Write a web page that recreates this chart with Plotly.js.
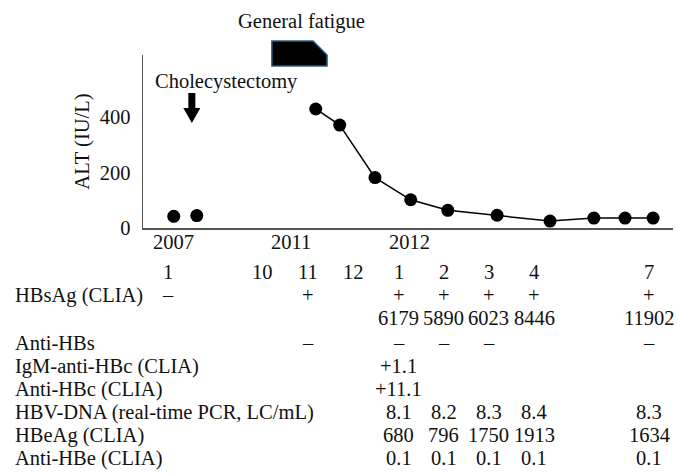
<!DOCTYPE html>
<html>
<head>
<meta charset="utf-8">
<script src="https://cdn.plot.ly/plotly-3.0.1.min.js"></script>
<style>html,body{margin:0;padding:0;background:#fff}#chart{width:677px;height:474px}</style>
</head>
<body>
<div id="chart"></div>
<script>
// ---- Data ----
// ALT values (IU/L); x = position on the visit axis (table column units)
var alt2007X = [-1.97, -1.46];
var alt2007Y = [42, 45];
var altX = [1.17, 1.70, 2.48, 3.27, 4.09, 5.18, 6.35, 7.32, 8.01, 8.63];
var altY = [430, 372, 182, 102, 64, 46, 25, 36, 36, 36];

// Table columns
var colX = [-2.1, 0, 1, 2, 3, 4, 5, 6, 8.55];
var months = ["1", "10", "11", "12", "1", "2", "3", "4", "7"];
var years = ["2007", "2011", "2012"];
var yearX = [-1.97, 0.62, 3.25];

var hbsag     = ["\u2013", "", "+", "", "+", "+", "+", "+", "+"];
var hbsagTit  = ["", "", "", "", "6179", "5890", "6023", "8446", "11902"];
var antiHBs   = ["", "", "\u2013", "", "\u2013", "\u2013", "\u2013", "", "\u2013"];
var igmAntiHBc= ["", "", "", "", "+1.1", "", "", "", ""];
var antiHBc   = ["", "", "", "", "+11.1", "", "", "", ""];
var hbvDNA    = ["", "", "", "", "8.1", "8.2", "8.3", "8.4", "8.3"];
var hbeag     = ["", "", "", "", "680", "796", "1750", "1913", "1634"];
var antiHBe   = ["", "", "", "", "0.1", "0.1", "0.1", "0.1", "0.1"];

var rowLabels = ["HBsAg (CLIA)", "", "Anti-HBs", "IgM-anti-HBc (CLIA)", "Anti-HBc (CLIA)",
                 "HBV-DNA (real-time PCR, LC/mL)", "HBeAg (CLIA)", "Anti-HBe (CLIA)"];
var rowValues = [hbsag, hbsagTit, antiHBs, igmAntiHBc, antiHBc, hbvDNA, hbeag, antiHBe];

// Events
var fatigueStart = 0.2, fatigueEnd = 1.42, fatigueCorner = 1.11;
var surgeryX = -1.57;

// ---- Layout helpers ----
var FONT = "Liberation Serif";
var FS = 20.5;
var TXT = {family: FONT, size: FS, color: "#111"};
var plotTop = 55, plotBottom = 228, plotH = plotBottom - plotTop;
function py(px) { return (plotBottom - px) / plotH; }
var rowPx = [295, 318, 343, 366, 389, 412, 435, 458];

var annotations = [];
function ann(o) { o.showarrow = false; o.font = TXT; o.yanchor = "middle"; if (!o.xanchor) o.xanchor = "center"; annotations.push(o); }
// years
years.forEach(function (t, i) { ann({xref: "x", yref: "paper", x: yearX[i], y: py(242), text: t}); });
// months
months.forEach(function (t, i) { ann({xref: "x", yref: "paper", x: colX[i], y: py(272), text: t}); });
// rows
rowLabels.forEach(function (lab, r) {
  if (lab) ann({xref: "paper", yref: "paper", x: (13 - 143) / 530, y: py(rowPx[r]), text: lab, xanchor: "left"});
  rowValues[r].forEach(function (v, i) {
    if (v) ann({xref: "x", yref: "paper", x: colX[i], y: py(rowPx[r]), text: v});
  });
});
// event labels
ann({xref: "x", yref: "paper", x: 0.86, y: py(21), text: "General fatigue"});
ann({xref: "x", yref: "paper", x: -0.8, y: py(81), text: "Cholecystectomy"});

// shapes
var fTop = py(41), fMid = py(55), fBot = py(66);
var shapes = [
  {type: "path", xref: "x", yref: "paper",
   path: "M" + fatigueStart + "," + fBot + " L" + fatigueStart + "," + fTop + " L" + fatigueCorner + "," + fTop +
         " L" + fatigueEnd + "," + fMid + " L" + fatigueEnd + "," + fBot + " Z",
   fillcolor: "#000", line: {color: "#2b5d80", width: 1.5}}
];
var sw = 3.5 / 45.2, hw = 8.5 / 45.2;
var aTop = py(93), aBase = py(108), aTip = py(123);
shapes.push({type: "path", xref: "x", yref: "paper",
  path: "M" + (surgeryX - sw) + "," + aTop + " L" + (surgeryX + sw) + "," + aTop +
        " L" + (surgeryX + sw) + "," + aBase + " L" + (surgeryX + hw) + "," + aBase +
        " L" + surgeryX + "," + aTip + " L" + (surgeryX - hw) + "," + aBase +
        " L" + (surgeryX - sw) + "," + aBase + " Z",
  fillcolor: "#000", line: {width: 0}});

var traces = [
  {x: alt2007X, y: alt2007Y, mode: "markers", type: "scatter",
   marker: {color: "#000", size: 13}, cliponaxis: false},
  {x: altX, y: altY, mode: "lines+markers", type: "scatter",
   line: {color: "#000", width: 1.5}, marker: {color: "#000", size: 13}, cliponaxis: false}
];

var layout = {
  width: 677, height: 474,
  margin: {l: 143, r: 4, t: 55, b: 246},
  paper_bgcolor: "#fff", plot_bgcolor: "#fff",
  showlegend: false,
  font: TXT,
  xaxis: {range: [-2.65, 9.07], showgrid: false, zeroline: false, showline: true,
          linecolor: "#555", linewidth: 1.5, showticklabels: false, ticks: "", fixedrange: true},
  yaxis: {range: [0, 625], showgrid: false, zeroline: false, showline: true,
          linecolor: "#555", linewidth: 1.5, tickvals: [0, 200, 400], ticktext: ["0", "200", "400"],
          ticks: "outside", ticklen: 7, tickcolor: "rgba(0,0,0,0)",
          tickfont: TXT,
          title: {text: "ALT (IU/L)", font: TXT, standoff: 4},
          fixedrange: true},
  annotations: annotations,
  shapes: shapes
};

Plotly.newPlot("chart", traces, layout, {displayModeBar: false, staticPlot: true});
</script>
</body>
</html>
